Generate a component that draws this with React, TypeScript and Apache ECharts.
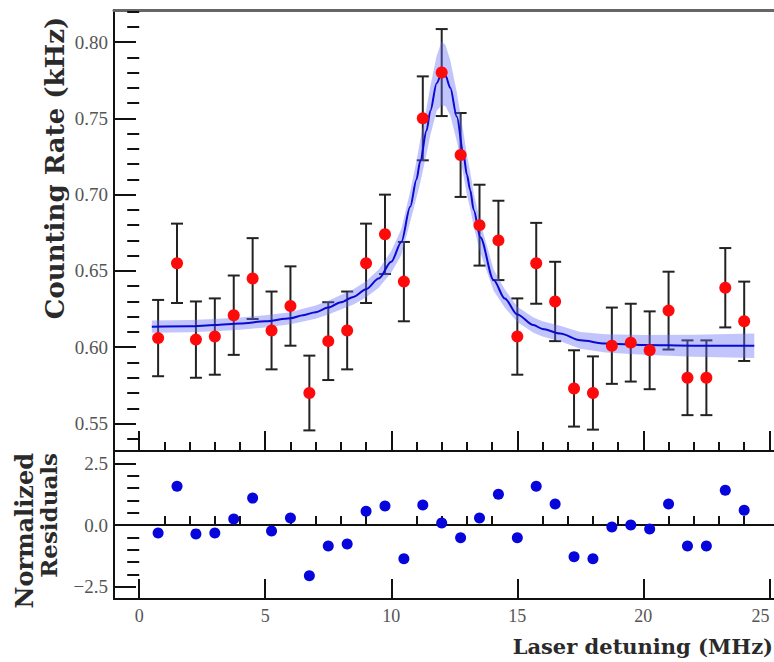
import React, { useEffect, useRef } from "react";
import * as echarts from "echarts";

// ---- data ----
const xVals = [0.75, 1.5, 2.25, 3, 3.75, 4.5, 5.25, 6, 6.75, 7.5, 8.25, 9, 9.75, 10.5, 11.25, 12, 12.75, 13.5, 14.25, 15, 15.75, 16.5, 17.25, 18, 18.75, 19.5, 20.25, 21, 21.75, 22.5, 23.25, 24];
const rateVals = [0.606, 0.655, 0.605, 0.607, 0.621, 0.645, 0.611, 0.627, 0.57, 0.604, 0.611, 0.655, 0.674, 0.643, 0.75, 0.78, 0.726, 0.68, 0.67, 0.607, 0.655, 0.63, 0.573, 0.57, 0.601, 0.603, 0.598, 0.624, 0.58, 0.58, 0.639, 0.617];
const rateErr = [0.025, 0.026, 0.025, 0.025, 0.026, 0.0265, 0.0255, 0.026, 0.0245, 0.0255, 0.0255, 0.026, 0.026, 0.026, 0.0275, 0.0285, 0.0275, 0.0265, 0.026, 0.025, 0.0265, 0.026, 0.025, 0.024, 0.025, 0.0255, 0.0255, 0.0255, 0.0245, 0.0245, 0.026, 0.026];
const residVals = [-0.32, 1.57, -0.36, -0.32, 0.24, 1.09, -0.24, 0.28, -2.06, -0.85, -0.77, 0.56, 0.77, -1.37, 0.81, 0.08, -0.52, 0.28, 1.25, -0.52, 1.57, 0.85, -1.29, -1.37, -0.08, 0.0, -0.16, 0.85, -0.85, -0.85, 1.41, 0.6];

const fitX = [0.5, 2, 3, 4, 5, 6, 6.5, 7, 7.5, 8, 8.5, 9, 9.5, 10, 10.4, 10.75, 11.0, 11.15, 11.4, 11.55, 11.8, 12.0, 12.15, 12.34, 12.6, 12.86, 13.0, 13.13, 13.27, 13.53, 14.06, 14.5, 15.0, 15.64, 16.0, 16.7, 17.5, 18.5, 20, 22, 24.4];
const fitY = [0.6135, 0.6138, 0.6145, 0.6155, 0.617, 0.619, 0.621, 0.623, 0.626, 0.6295, 0.633, 0.638, 0.645, 0.656, 0.669, 0.692, 0.71, 0.722, 0.742, 0.755, 0.773, 0.7795, 0.778, 0.77, 0.751, 0.727, 0.713, 0.703, 0.69, 0.672, 0.644, 0.632, 0.6215, 0.6145, 0.612, 0.609, 0.6045, 0.6025, 0.6015, 0.601, 0.601];
const fitBand = [0.004, 0.004, 0.004, 0.004, 0.004, 0.004, 0.0042, 0.0044, 0.0045, 0.0047, 0.005, 0.0052, 0.006, 0.007, 0.0085, 0.01, 0.012, 0.014, 0.015, 0.016, 0.018, 0.021, 0.02, 0.018, 0.016, 0.014, 0.013, 0.012, 0.011, 0.01, 0.007, 0.006, 0.005, 0.005, 0.005, 0.005, 0.0055, 0.006, 0.0065, 0.0072, 0.008];

const rateMajor = [0.55, 0.6, 0.65, 0.7, 0.75, 0.8];
const rateMinor = [0.54, 0.56, 0.57, 0.58, 0.59, 0.61, 0.62, 0.63, 0.64, 0.66, 0.67, 0.68, 0.69, 0.71, 0.72, 0.73, 0.74, 0.76, 0.77, 0.78, 0.79, 0.81, 0.82];
const residMajor = [-2.5, 0, 2.5];
const residMinor = [-2, -1.5, -1, -0.5, 0.5, 1, 1.5, 2];
const xMajor = [0, 5, 10, 15, 20, 25];
const xMinor = [1, 2, 3, 4, 6, 7, 8, 9, 11, 12, 13, 14, 16, 17, 18, 19, 21, 22, 23, 24];

const X_MIN = -1;
const X_MAX = 25.5;

const SERIF = "'Liberation Serif', 'DejaVu Serif', serif";
const TITLE_FONT = "'DejaVu Serif', 'Liberation Serif', serif";

export default function App() {
  const ref = useRef<HTMLDivElement>(null);

  useEffect(() => {
    if (!ref.current) return;
    const chart = echarts.init(ref.current, undefined, { renderer: "svg" });

    const tickLabel = {
      color: "#555",
      fontFamily: SERIF,
      fontSize: 19,
    };

    const majorX = (gridIndex: number, labels: boolean) => ({
      type: "value",
      gridIndex,
      min: X_MIN,
      max: X_MAX,
      position: "bottom",
      axisLine: { show: true, onZero: false, lineStyle: { color: "#111", width: 2 } },
      axisTick: { show: true, inside: true, length: 20, customValues: xMajor, lineStyle: { color: "#111", width: 2 } },
      axisLabel: labels
        ? {
            show: true,
            customValues: xMajor,
            margin: 8,
            ...tickLabel,
            fontSize: 18,
            formatter: (v: number) => String(v),
            rich: {},
          }
        : { show: false },
      splitLine: { show: false },
    });
    const minorX = (gridIndex: number) => ({
      type: "value",
      gridIndex,
      min: X_MIN,
      max: X_MAX,
      position: "bottom",
      axisLine: { show: false },
      axisTick: { show: true, inside: true, length: 9, customValues: xMinor, lineStyle: { color: "#111", width: 2 } },
      axisLabel: { show: false },
      splitLine: { show: false },
    });

    const errData = xVals.map((x, i) => [x, rateVals[i] - rateErr[i], rateVals[i] + rateErr[i]]);
    const bandData = fitX.map((x, i) => [x, fitY[i] - fitBand[i], fitY[i] + fitBand[i]]);

    const bottomX: any = majorX(1, true);
    bottomX.axisLabel.alignMaxLabel = "right";

    chart.setOption({
      animation: false,
      backgroundColor: "#fff",
      grid: [
        { left: 114, top: 10, right: -8, height: 441, outerBoundsMode: "none", containLabel: false },
        { left: 114, top: 451, right: -8, height: 148, outerBoundsMode: "none", containLabel: false },
      ],
      xAxis: [
        majorX(0, false),
        minorX(0),
        {
          type: "value",
          gridIndex: 0,
          min: X_MIN,
          max: X_MAX,
          position: "top",
          axisLine: { show: true, lineStyle: { color: "#666", width: 3 } },
          axisTick: { show: false },
          axisLabel: { show: false },
          splitLine: { show: false },
        },
        bottomX,
        minorX(1),
      ],
      yAxis: [
        {
          type: "value",
          gridIndex: 0,
          min: 0.532,
          max: 0.821,
          axisLine: { show: true, onZero: false, lineStyle: { color: "#111", width: 2 } },
          axisTick: { show: true, inside: true, length: 22, customValues: rateMajor, lineStyle: { color: "#111", width: 2 } },
          axisLabel: { show: true, customValues: rateMajor, margin: 6, formatter: (v: number) => v.toFixed(2), ...tickLabel },
          splitLine: { show: false },
        },
        {
          type: "value",
          gridIndex: 0,
          min: 0.532,
          max: 0.821,
          axisLine: { show: false },
          axisTick: { show: true, inside: true, length: 12, customValues: rateMinor, lineStyle: { color: "#111", width: 2 } },
          axisLabel: { show: false },
          splitLine: { show: false },
        },
        {
          type: "value",
          gridIndex: 1,
          min: -3,
          max: 3,
          axisLine: { show: true, onZero: false, lineStyle: { color: "#111", width: 2 } },
          axisTick: { show: true, inside: true, length: 22, customValues: residMajor, lineStyle: { color: "#111", width: 2 } },
          axisLabel: {
            show: true,
            customValues: residMajor,
            margin: 6,
            formatter: (v: number) => (v < 0 ? "\u2212" + Math.abs(v).toFixed(1) : v.toFixed(1)),
            ...tickLabel,
          },
          splitLine: { show: false },
        },
        {
          type: "value",
          gridIndex: 1,
          min: -3,
          max: 3,
          axisLine: { show: false },
          axisTick: { show: true, inside: true, length: 12, customValues: residMinor, lineStyle: { color: "#111", width: 2 } },
          axisLabel: { show: false },
          splitLine: { show: false },
        },
      ],
      series: [
        {
          name: "errors",
          type: "custom",
          xAxisIndex: 0,
          yAxisIndex: 0,
          data: errData,
          encode: { x: 0, y: [1, 2] },
          z: 2,
          renderItem: (params: any, api: any) => {
            const x = api.value(0);
            const lo = api.coord([x, api.value(1)]);
            const hi = api.coord([x, api.value(2)]);
            const w = 6;
            const st = { stroke: "#222", lineWidth: 2 };
            return {
              type: "group",
              children: [
                { type: "line", shape: { x1: lo[0], y1: lo[1], x2: hi[0], y2: hi[1] }, style: st },
                { type: "line", shape: { x1: lo[0] - w, y1: lo[1], x2: lo[0] + w, y2: lo[1] }, style: st },
                { type: "line", shape: { x1: hi[0] - w, y1: hi[1], x2: hi[0] + w, y2: hi[1] }, style: st },
              ],
            };
          },
        },
        {
          name: "band",
          type: "custom",
          xAxisIndex: 0,
          yAxisIndex: 0,
          data: bandData,
          encode: { x: 0, y: [1, 2] },
          z: 3,
          renderItem: (params: any, api: any) => {
            if (params.dataIndex !== 0) return null;
            const pts: number[][] = [];
            for (let i = 0; i < bandData.length; i++) pts.push(api.coord([bandData[i][0], bandData[i][2]]));
            for (let i = bandData.length - 1; i >= 0; i--) pts.push(api.coord([bandData[i][0], bandData[i][1]]));
            return {
              type: "polygon",
              shape: { points: pts },
              style: { fill: "rgba(100,110,245,0.4)", stroke: "none" },
            };
          },
        },
        {
          name: "fit",
          type: "line",
          xAxisIndex: 0,
          yAxisIndex: 0,
          data: fitX.map((x, i) => [x, fitY[i]]),
          smooth: 0.3,
          smoothMonotone: "x",
          showSymbol: false,
          symbol: "none",
          z: 4,
          lineStyle: { color: "#0a0ad2", width: 2 },
        },
        {
          name: "rate",
          type: "scatter",
          xAxisIndex: 0,
          yAxisIndex: 0,
          data: xVals.map((x, i) => [x, rateVals[i]]),
          symbolSize: 12,
          z: 5,
          itemStyle: { color: "#ff0a0a", opacity: 1 },
        },
        {
          name: "residuals",
          type: "scatter",
          xAxisIndex: 3,
          yAxisIndex: 2,
          data: xVals.map((x, i) => [x, residVals[i]]),
          symbolSize: 11,
          z: 5,
          itemStyle: { color: "#0505dc", opacity: 1 },
          markLine: {
            silent: true,
            symbol: "none",
            label: { show: false },
            lineStyle: { color: "#111", width: 2, type: "solid" },
            data: [{ yAxis: 0 }],
          },
        },
      ],
      graphic: [
        {
          type: "text",
          x: 55,
          y: 168,
          rotation: Math.PI / 2,
          style: {
            text: "Counting Rate (kHz)",
            fontFamily: TITLE_FONT,
            fontWeight: "bold",
            fontSize: 26,
            fill: "#2a2a2a",
            align: "center",
            verticalAlign: "middle",
          },
        },
        {
          type: "text",
          x: 24,
          y: 453,
          rotation: Math.PI / 2,
          style: {
            text: "Normalized",
            fontFamily: TITLE_FONT,
            fontWeight: "bold",
            fontSize: 24,
            fill: "#2a2a2a",
            align: "right",
            verticalAlign: "middle",
          },
        },
        {
          type: "text",
          x: 48,
          y: 453,
          rotation: Math.PI / 2,
          style: {
            text: "Residuals",
            fontFamily: TITLE_FONT,
            fontWeight: "bold",
            fontSize: 23,
            fill: "#2a2a2a",
            align: "right",
            verticalAlign: "middle",
          },
        },
        {
          type: "text",
          x: 773,
          y: 646,
          style: {
            text: "Laser detuning (MHz)",
            fontFamily: TITLE_FONT,
            fontWeight: "bold",
            fontSize: 21,
            fill: "#2a2a2a",
            align: "right",
            verticalAlign: "middle",
          },
        },
      ],
    });

    return () => chart.dispose();
  }, []);

  return (
    <div
      ref={ref}
      style={{ position: "absolute", left: 0, top: 0, width: 774, height: 662 }}
    />
  );
}
